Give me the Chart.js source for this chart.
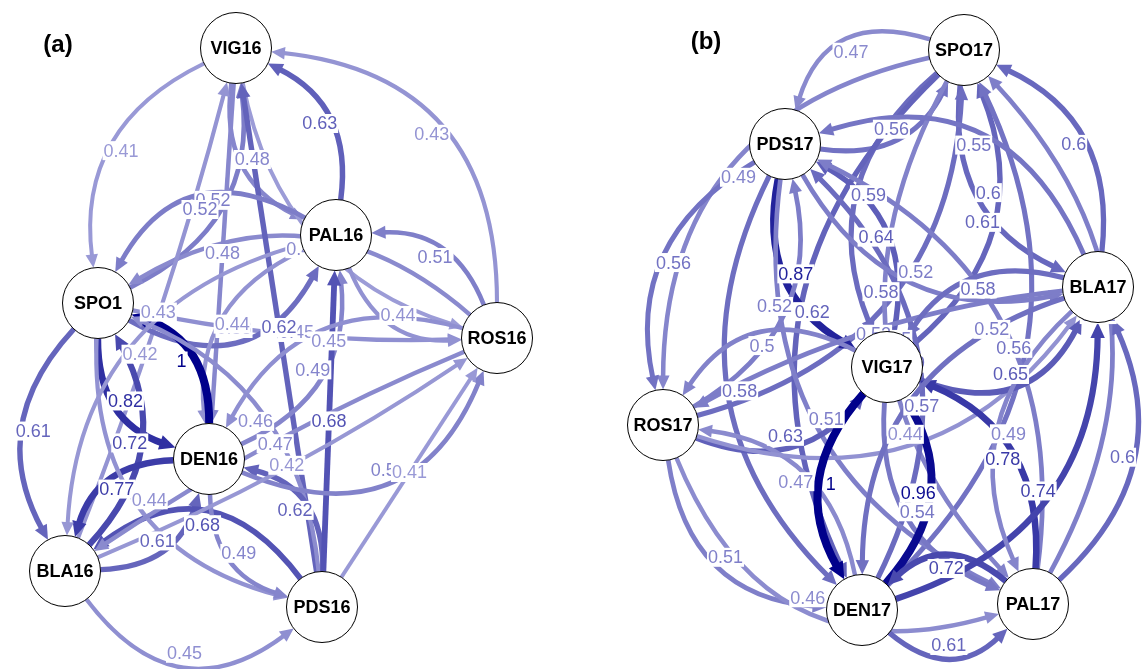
<!DOCTYPE html>
<html>
<head>
<meta charset="utf-8">
<script src="https://cdn.jsdelivr.net/npm/chart.js@4.4.1/dist/chart.umd.min.js"></script>
<style>
html, body { margin: 0; padding: 0; background: #fff; }
#wrap { width: 1144px; height: 669px; position: relative; }
</style>
</head>
<body>
<div id="wrap"><canvas id="net"></canvas></div>
<script>
// panel (a) nodes
const nodesA = ["VIG16", "PAL16", "SPO1", "ROS16", "DEN16", "BLA16", "PDS16"];
const nodeXA = [236, 336, 98, 497, 209, 65, 322];
const nodeYA = [48, 235, 303, 338, 459, 571, 607];

// panel (a) edges
const fromA = ["VIG16","SPO1","VIG16","PAL16","ROS16","VIG16","ROS16","SPO1","PAL16","ROS16",
  "VIG16","BLA16","PDS16","PAL16","SPO1","PAL16","DEN16","DEN16","SPO1","SPO1",
  "BLA16","DEN16","BLA16","PDS16","BLA16","SPO1","PDS16","PDS16","DEN16","PDS16",
  "ROS16","DEN16","PAL16","BLA16","ROS16","PDS16"];
const toA = ["SPO1","VIG16","PAL16","VIG16","VIG16","ROS16","SPO1","ROS16","ROS16","PAL16",
  "DEN16","VIG16","VIG16","SPO1","PAL16","DEN16","PAL16","SPO1","DEN16","BLA16",
  "SPO1","BLA16","DEN16","BLA16","PDS16","PDS16","SPO1","DEN16","PDS16","PAL16",
  "DEN16","ROS16","BLA16","ROS16","BLA16","ROS16"];
const weightA = [0.41,0.52,0.48,0.63,0.43,0.4,0.47,0.45,0.44,0.51,
  0.48,0.43,0.62,0.52,0.58,0.44,0.49,1,0.82,0.61,
  0.72,0.77,0.61,0.68,0.45,0.44,0.46,0.62,0.49,0.68,
  0.45,0.5,0.42,0.42,0.47,0.41];
const bendA = [0.36,0.36,0.36,0.36,0.45,0.3,0.36,0.06,0.36,0.36,
  0,0.03,0,0.5,0.5,0.36,0.36,0.36,0.36,0.36,
  0.36,0.36,0.36,0.5,0.5,0.4,0.3,0.4,0.36,0,
  0.4,0.5,0.36,0.05,0.05,0];

// panel (b) nodes
const nodesB = ["SPO17", "PDS17", "BLA17", "VIG17", "ROS17", "DEN17", "PAL17"];
const nodeXB = [964, 785, 1098, 887, 663, 862, 1033];
const nodeYB = [50, 144, 287, 367, 425, 610, 604];

// panel (b) edges
const fromB = ["SPO17","PDS17","SPO17","BLA17","SPO17","VIG17","SPO17","ROS17","SPO17","DEN17",
  "SPO17","PAL17","PDS17","VIG17","PDS17","ROS17","PDS17","DEN17","PDS17","PAL17",
  "BLA17","PDS17","ROS17","VIG17","ROS17","DEN17","ROS17","ROS17","BLA17","VIG17",
  "BLA17","VIG17","PAL17","VIG17","DEN17","DEN17","PAL17","DEN17","BLA17","PAL17","BLA17"];
const toB = ["PDS17","SPO17","BLA17","SPO17","VIG17","SPO17","ROS17","SPO17","DEN17","SPO17",
  "PAL17","SPO17","VIG17","PDS17","ROS17","PDS17","DEN17","PDS17","PAL17","PDS17",
  "PDS17","BLA17","VIG17","ROS17","DEN17","ROS17","PAL17","BLA17","ROS17","BLA17",
  "VIG17","PAL17","VIG17","DEN17","VIG17","PAL17","DEN17","BLA17","DEN17","BLA17","PAL17"];
const weightB = [0.47,0.56,0.6,0.6,0.59,0.61,0.49,0.58,0.62,0.56,
  0.5,0.51,0.87,0.64,0.56,0.52,0.58,0.59,0.51,0.52,
  0.55,0.52,0.63,0.5,0.51,0.47,0.46,0.44,0.52,0.65,
  0.58,0.54,0.78,1,0.96,0.61,0.72,0.74,0.57,0.6,0.49];
const bendB = [0.5,0.36,0.36,0.36,0.36,0.36,0.4,0.36,0.36,0.36,
  0.36,0.36,0.36,0.36,0.36,0.36,0.36,0.36,0.36,0.36,
  0.45,0.36,0.36,0.45,0.4,0.36,0.45,0.36,0.1,0.45,
  0.36,0.36,0.36,0.36,0.36,0.45,0.45,0.36,0.36,0.36,0.36];

const panelTitles = ["(a)", "(b)"];
const titleX = [58, 706];
const titleY = [45, 42];

const NODE_R = 35.5;
const FONT = "'Liberation Sans', Arial, Helvetica, sans-serif";

function edgeColor(w) {
  const t = Math.max(0, Math.min(1, (w - 0.4) / 0.6));
  const lo = [156, 156, 215], hi = [0, 0, 139];
  const c = lo.map((v, i) => Math.round(v + (hi[i] - v) * t));
  return "rgb(" + c.join(",") + ")";
}

const panels = [
  { names: nodesA, xs: nodeXA, ys: nodeYA, from: fromA, to: toA, w: weightA, bend: bendA },
  { names: nodesB, xs: nodeXB, ys: nodeYB, from: fromB, to: toB, w: weightB, bend: bendB }
];

const networkPlugin = {
  id: "network",
  beforeDatasetsDraw(chart) {
    const ctx = chart.ctx;
    const sx = chart.scales.x, sy = chart.scales.y;
    const labels = [];
    panels.forEach((p) => {
      p.from.forEach((f, i) => {
        const a = p.names.indexOf(f), b = p.names.indexOf(p.to[i]);
        const ax = sx.getPixelForValue(p.xs[a]), ay = sy.getPixelForValue(p.ys[a]);
        const bx = sx.getPixelForValue(p.xs[b]), by = sy.getPixelForValue(p.ys[b]);
        const dx = bx - ax, dy = by - ay;
        const c = p.bend[i];
        const cx = (ax + bx) / 2 - dy * c, cy = (ay + by) / 2 + dx * c;
        // trim to circle boundaries
        let ux = cx - ax, uy = cy - ay, ul = Math.hypot(ux, uy);
        const sxp = ax + ux / ul * NODE_R, syp = ay + uy / ul * NODE_R;
        let vx = bx - cx, vy = by - cy, vl = Math.hypot(vx, vy);
        vx /= vl; vy /= vl;
        const tipX = bx - vx * NODE_R, tipY = by - vy * NODE_R;
        const w = p.w[i];
        const col = edgeColor(w);
        const lw = 1.2 + 6.8 * w;
        const aLen = 11 + 6 * w, aHalf = 5 + 3 * w;
        const endX = tipX - vx * aLen * 0.8, endY = tipY - vy * aLen * 0.8;
        ctx.save();
        ctx.strokeStyle = col;
        ctx.lineWidth = lw;
        ctx.lineCap = "butt";
        ctx.beginPath();
        ctx.moveTo(sxp, syp);
        ctx.quadraticCurveTo(cx, cy, endX, endY);
        ctx.stroke();
        // arrow head
        const baseX = tipX - vx * aLen, baseY = tipY - vy * aLen;
        ctx.fillStyle = col;
        ctx.beginPath();
        ctx.moveTo(tipX, tipY);
        ctx.lineTo(baseX - vy * aHalf, baseY + vx * aHalf);
        ctx.lineTo(baseX + vy * aHalf, baseY - vx * aHalf);
        ctx.closePath();
        ctx.fill();
        ctx.restore();
        labels.push({
          x: 0.25 * ax + 0.5 * cx + 0.25 * bx,
          y: 0.25 * ay + 0.5 * cy + 0.25 * by,
          text: String(w), col: col
        });
      });
    });
    ctx.save();
    ctx.font = "18px " + FONT;
    ctx.textAlign = "center";
    ctx.textBaseline = "middle";
    labels.forEach((l) => {
      const tw = ctx.measureText(l.text).width;
      ctx.fillStyle = "#fff";
      ctx.fillRect(l.x - tw / 2 - 1, l.y - 9.5, tw + 2, 19);
      ctx.fillStyle = l.col;
      ctx.fillText(l.text, l.x, l.y + 1);
    });
    ctx.restore();
  },
  afterDatasetsDraw(chart) {
    const ctx = chart.ctx;
    const sx = chart.scales.x, sy = chart.scales.y;
    ctx.save();
    ctx.fillStyle = "#000";
    ctx.textAlign = "center";
    ctx.textBaseline = "middle";
    ctx.font = "bold 18px " + FONT;
    panels.forEach((p) => {
      p.names.forEach((n, i) => {
        ctx.fillText(n, sx.getPixelForValue(p.xs[i]), sy.getPixelForValue(p.ys[i]) + 1);
      });
    });
    ctx.font = "bold 24px " + FONT;
    panelTitles.forEach((t, i) => {
      ctx.fillText(t, sx.getPixelForValue(titleX[i]), sy.getPixelForValue(titleY[i]));
    });
    ctx.restore();
  }
};

const nodeDataset = (p) => ({
  data: p.xs.map((x, i) => ({ x: x, y: p.ys[i] })),
  pointRadius: NODE_R,
  pointHoverRadius: NODE_R,
  pointBackgroundColor: "#fff",
  pointBorderColor: "#000",
  pointBorderWidth: 1,
  clip: false
});

new Chart(document.getElementById("net"), {
  type: "scatter",
  data: { datasets: panels.map(nodeDataset) },
  options: {
    responsive: true,
    maintainAspectRatio: false,
    animation: false,
    layout: { padding: 0, autoPadding: false },
    events: [],
    plugins: { legend: { display: false }, tooltip: { enabled: false } },
    scales: {
      x: { type: "linear", min: 0, max: 1144, display: false },
      y: { type: "linear", min: 0, max: 669, reverse: true, display: false }
    }
  },
  plugins: [networkPlugin]
});
</script>
</body>
</html>
